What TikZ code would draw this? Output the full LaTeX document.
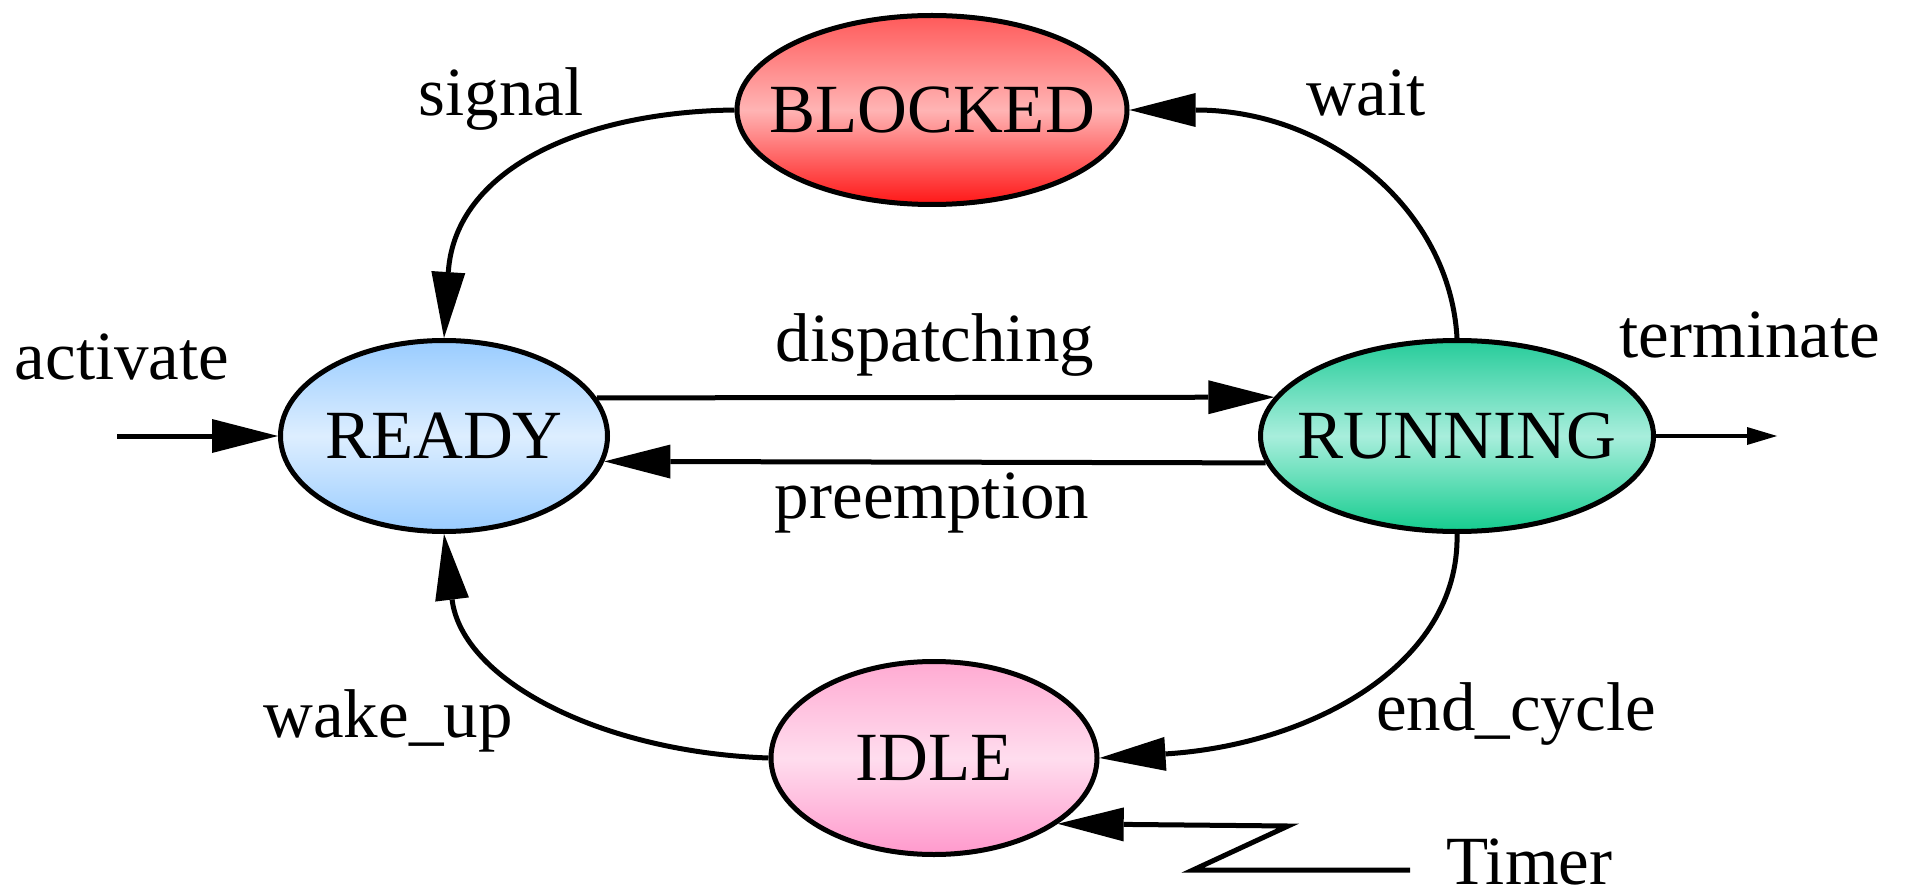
\documentclass[tikz,border=0pt]{standalone}
\usepackage{fontspec}
\setmainfont{Liberation Serif}
\usetikzlibrary{arrows.meta,shapes.geometric}

\definecolor{blkTop}{HTML}{FF5A5A}
\definecolor{blkMid}{HTML}{FFB4B4}
\definecolor{blkBot}{HTML}{FF1616}
\definecolor{rdyEdge}{HTML}{99CCFF}
\definecolor{rdyMid}{HTML}{DDEEFF}
\definecolor{runTop}{HTML}{26CC9A}
\definecolor{runMid}{HTML}{A8EEDC}
\definecolor{runBot}{HTML}{14CC8E}
\definecolor{idlTop}{HTML}{FFAAD2}
\definecolor{idlMid}{HTML}{FFDDEE}
\definecolor{idlBot}{HTML}{FF99CC}

% state names are set in a zero-width box so the ellipse size is fixed
% by minimum width/height alone
\newcommand{\statename}[1]{\makebox[0pt][c]{#1}}

\tikzset{
  state/.style={ellipse, draw=black, line width=5pt, inner sep=0pt,
                font=\fontsize{69}{80}\selectfont},
  lbl/.style={font=\fontsize{69}{80}\selectfont, inner sep=0pt, anchor=base},
  conn/.style={line width=5pt, -{Triangle[length=66pt,width=34pt,line width=0pt]}},
  smallconn/.style={line width=4.5pt, -{Triangle[length=30pt,width=18pt,line width=0pt]}},
  blockedfill/.style={top color=blkTop, bottom color=blkBot, middle color=blkMid},
  readyfill/.style={top color=rdyEdge, bottom color=rdyEdge, middle color=rdyMid},
  runningfill/.style={top color=runTop, bottom color=runBot, middle color=runMid},
  idlefill/.style={top color=idlTop, bottom color=idlBot, middle color=idlMid},
}

\begin{document}
\begin{tikzpicture}[x=1pt,y=-1pt]
\useasboundingbox (0,0) rectangle (1908,890);

% states
\node[state, blockedfill, minimum width=390pt, minimum height=189pt] (blocked) at (932,110) {\statename{BLOCKED}};
\node[state, readyfill,   minimum width=327pt, minimum height=191pt] (ready)   at (444,436) {\statename{READY}};
\node[state, runningfill, minimum width=393pt, minimum height=191pt] (running) at (1457,436) {\statename{RUNNING}};
\node[state, idlefill,    minimum width=326pt, minimum height=193pt] (idle)    at (934,758) {\statename{IDLE}};

% free ends
\coordinate (actin)  at (117,436);
\coordinate (termout) at (1777,436);
\coordinate (tzA) at (1410,870);
\coordinate (tzB) at (1193,870);
\coordinate (tzC) at (1288,826);

% transitions
\draw[conn] (blocked.west) .. controls (580,112) and (455,170) .. (ready.north);
\draw[conn] (running.north) .. controls (1450,210) and (1330,110) .. (blocked.east);
\draw[conn] (ready.14) -- (running.168);
\draw[conn] (running.188) -- (ready.351);
\draw[conn] (running.south) .. controls (1460,665) and (1310,745) .. (idle.east);
\draw[conn] (idle.west) .. controls (600,752) and (462,680) .. (ready.south);
\draw[conn] (actin) -- (ready.west);
\draw[smallconn] (running.east) -- (termout);
\draw[conn] (tzA) -- (tzB) -- (tzC) -- (idle.-28);

% labels
\node[lbl] (lsignal)   at (501,116)  {signal};
\node[lbl] (lwait)     at (1366,116) {wait};
\node[lbl] (lactivate) at (122,379)  {activate};
\node[lbl] (ldispatch) at (935,362)  {dispatching};
\node[lbl] (lpreempt)  at (932,518)  {preemption};
\node[lbl] (lterm)     at (1750,358) {terminate};
\node[lbl] (lwake)     at (388,737)  {wake\_up};
\node[lbl] (lend)      at (1516,730) {end\_cycle};
\node[lbl, anchor=base west] (timer) at (1446,884) {Timer};
\end{tikzpicture}
\end{document}
